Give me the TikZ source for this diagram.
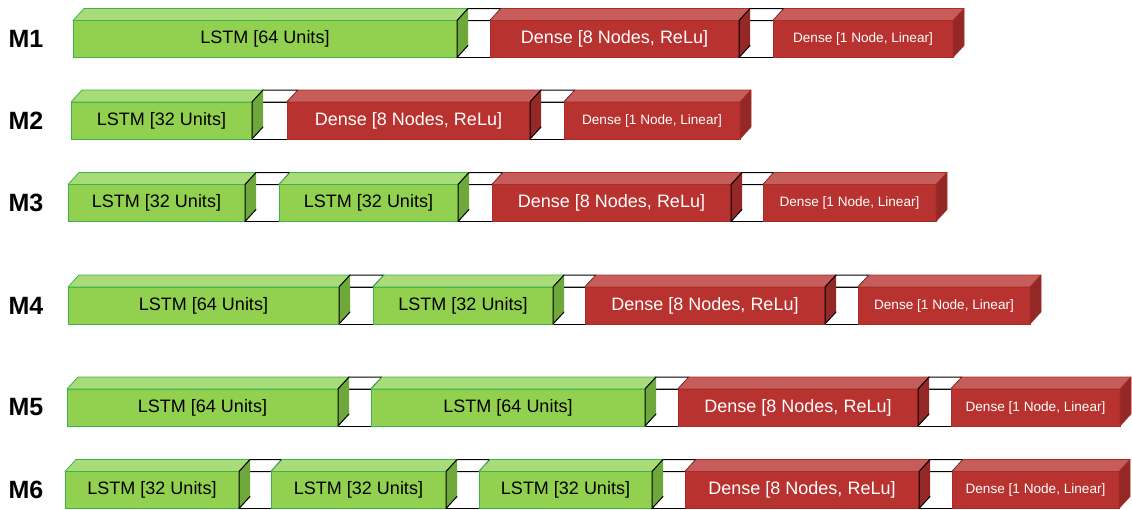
\documentclass[tikz,border=0pt]{standalone}
\usepackage{fontspec}
\setmainfont{Liberation Sans}
\usetikzlibrary{calc}
\pgfdeclarelayer{back}
\pgfsetlayers{back,main}

\definecolor{gfront}{HTML}{92D050}
\definecolor{gtop}{HTML}{A9DC79}
\definecolor{gside}{HTML}{6EA83B}
\definecolor{gedge}{HTML}{3CB44B}
\definecolor{rfront}{HTML}{B8322F}
\definecolor{rtop}{HTML}{C65D5A}
\definecolor{rside}{HTML}{932826}
\definecolor{redge}{HTML}{A92C29}

\tikzset{
  front g/.style={fill=gfront, draw=gedge, line width=0.8pt},
  top g/.style={fill=gtop, draw=gedge, line width=0.8pt, line join=round},
  side g/.style={fill=gside},
  front r/.style={fill=rfront, draw=redge, line width=0.6pt},
  top r/.style={fill=rtop, draw=redge, line width=0.6pt, line join=round},
  side r/.style={fill=rside},
  lastside r/.style={fill=rside, draw=redge, line width=0.6pt, line join=round},
  lstmtext/.style={text=black, font=\fontsize{18}{20}\selectfont},
  densetext/.style={text=white, font=\fontsize{18}{20}\selectfont},
  outtext/.style={text=white, font=\fontsize{13.6}{15}\selectfont},
  rowlabel/.style={text=black, font=\fontsize{25}{28}\selectfont\bfseries},
  gap/.style={fill=white, draw=black, line width=1pt, line join=round},
  gapline/.style={draw=black, line width=1pt, line join=round, line cap=round},
}

% front face as a named node, plus its top face
% #1 name, #2 family (g/r), #3 text style, #4 left x, #5 right x, #6 top y, #7 text
\newcommand\layer[7]{%
  \pgfmathsetmacro\lwid{#5-#4}%
  \node[front #2, #3, anchor=north west, minimum width=\lwid pt,
        minimum height=37pt, inner sep=0pt, outer sep=0pt] (#1) at (#4,#6) {#7};
  \filldraw[top #2] (#1.north west) -- ++(11pt,12pt)
     -- ($(#1.north east)+(11pt,12pt)$) -- (#1.north east) -- cycle;
}

% white joint between two layers, with the side face of the left layer
% #1 left node, #2 right node, #3 family of left node
\newcommand\joint[3]{%
  \begin{pgfonlayer}{back}
    \filldraw[gap] (#1.north east) rectangle (#2.south west);
    \filldraw[gap] (#1.north east) -- ++(11pt,12pt)
       -- ($(#2.north west)+(11pt,12pt)$) -- (#2.north west) -- cycle;
  \end{pgfonlayer}
  \fill[side #3] (#1.north east) -- ++(11pt,12pt)
     -- ($(#1.south east)+(11pt,12pt)$) -- (#1.south east) -- cycle;
  \draw[gapline] (#1.south east) -- (#1.north east) -- ++(11pt,12pt);
  \draw[gapline] (#1.south east) -- ++(11pt,12pt);
}

% closing side face of the last layer in a row
\newcommand\closeside[1]{%
  \filldraw[lastside r] (#1.north east) -- ++(11pt,12pt)
     -- ($(#1.south east)+(11pt,12pt)$) -- (#1.south east) -- cycle;
}

\begin{document}
\begin{tikzpicture}[x=1pt,y=-1pt]
\useasboundingbox (0,0) rectangle (1132,509);

% M1
\node[rowlabel] (l1) at (26,39) {M1};
\layer{m1a}{g}{lstmtext}{73}{457}{20.5}{LSTM [64 Units]}
\layer{m1b}{r}{densetext}{490}{739}{20.5}{Dense [8 Nodes, ReLu]}
\layer{m1c}{r}{outtext}{773}{953}{20.5}{Dense [1 Node, Linear]}
\joint{m1a}{m1b}{g}
\joint{m1b}{m1c}{r}
\closeside{m1c}

% M2
\node[rowlabel] (l2) at (26,120.5) {M2};
\layer{m2a}{g}{lstmtext}{71}{252}{102}{LSTM [32 Units]}
\layer{m2b}{r}{densetext}{287}{530}{102}{Dense [8 Nodes, ReLu]}
\layer{m2c}{r}{outtext}{564}{740}{102}{Dense [1 Node, Linear]}
\joint{m2a}{m2b}{g}
\joint{m2b}{m2c}{r}
\closeside{m2c}

% M3
\node[rowlabel] (l3) at (26,203) {M3};
\layer{m3a}{g}{lstmtext}{68}{245}{184.5}{LSTM [32 Units]}
\layer{m3b}{g}{lstmtext}{279}{458}{184.5}{LSTM [32 Units]}
\layer{m3c}{r}{densetext}{492}{731}{184.5}{Dense [8 Nodes, ReLu]}
\layer{m3d}{r}{outtext}{763}{936}{184.5}{Dense [1 Node, Linear]}
\joint{m3a}{m3b}{g}
\joint{m3b}{m3c}{g}
\joint{m3c}{m3d}{r}
\closeside{m3d}

% M4
\node[rowlabel] (l4) at (26,305.5) {M4};
\layer{m4a}{g}{lstmtext}{68}{339}{287}{LSTM [64 Units]}
\layer{m4b}{g}{lstmtext}{373}{553}{287}{LSTM [32 Units]}
\layer{m4c}{r}{densetext}{585}{825}{287}{Dense [8 Nodes, ReLu]}
\layer{m4d}{r}{outtext}{858}{1030}{287}{Dense [1 Node, Linear]}
\joint{m4a}{m4b}{g}
\joint{m4b}{m4c}{g}
\joint{m4c}{m4d}{r}
\closeside{m4d}

% M5
\node[rowlabel] (l5) at (26,407.5) {M5};
\layer{m5a}{g}{lstmtext}{67}{338}{389}{LSTM [64 Units]}
\layer{m5b}{g}{lstmtext}{371}{645}{389}{LSTM [64 Units]}
\layer{m5c}{r}{densetext}{678}{918}{389}{Dense [8 Nodes, ReLu]}
\layer{m5d}{r}{outtext}{951}{1120}{389}{Dense [1 Node, Linear]}
\joint{m5a}{m5b}{g}
\joint{m5b}{m5c}{g}
\joint{m5c}{m5d}{r}
\closeside{m5d}

% M6
\node[rowlabel] (l6) at (26,490) {M6};
\layer{m6a}{g}{lstmtext}{65}{239}{471.5}{LSTM [32 Units]}
\layer{m6b}{g}{lstmtext}{271}{446}{471.5}{LSTM [32 Units]}
\layer{m6c}{g}{lstmtext}{479}{652}{471.5}{LSTM [32 Units]}
\layer{m6d}{r}{densetext}{685}{919}{471.5}{Dense [8 Nodes, ReLu]}
\layer{m6e}{r}{outtext}{952}{1119}{471.5}{Dense [1 Node, Linear]}
\joint{m6a}{m6b}{g}
\joint{m6b}{m6c}{g}
\joint{m6c}{m6d}{g}
\joint{m6d}{m6e}{r}
\closeside{m6e}
\end{tikzpicture}
\end{document}
